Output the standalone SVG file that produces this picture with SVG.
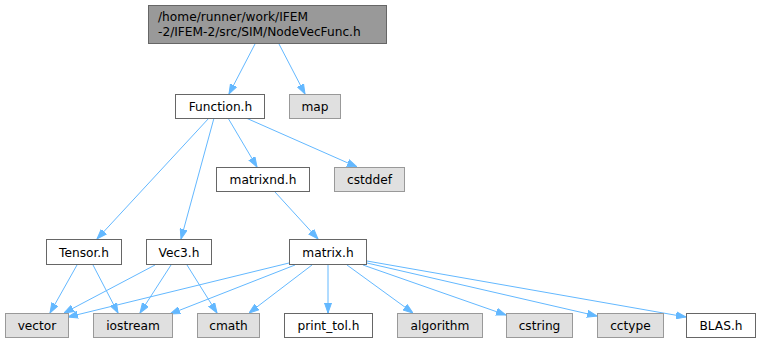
<svg xmlns="http://www.w3.org/2000/svg" width="760" height="344" viewBox="0 0 760 344">
<style>
.n rect{stroke:#666666;stroke-width:1}
.w rect{fill:#ffffff}
.g rect{fill:#e0e0e0;stroke:#999999}
.t rect{fill:#999999}
text{font-family:"DejaVu Sans",sans-serif;font-size:12.2px;fill:#000000}
.c{text-anchor:middle}
#edges path{fill:none;stroke:#63b8ff;stroke-width:1;marker-end:url(#ah)}
</style>
<defs>
<marker id="ah" markerUnits="userSpaceOnUse" markerWidth="10" markerHeight="8" refX="10" refY="4" orient="auto">
<path d="M0,0.5 L10,4 L0,7.5 z" fill="#63b8ff" stroke="#63b8ff" stroke-width="1"/>
</marker>
</defs>
<rect width="760" height="344" fill="#ffffff"/>
<g id="edges">
<path d="M255,44 L229,94"/>
<path d="M279,44 L305,94"/>
<path d="M209,118 L97,239"/>
<path d="M214,118 L181,239"/>
<path d="M228,118 L257,167"/>
<path d="M246,118 L357,167"/>
<path d="M275,192 L318,239"/>
<path d="M77,265 L50,313"/>
<path d="M93,265 L118,313"/>
<path d="M155,265 L64,313"/>
<path d="M171,265 L140,313"/>
<path d="M187,265 L217,313"/>
<path d="M289,263 L68,317"/>
<path d="M295,265 L170,314"/>
<path d="M312,265 L249,313"/>
<path d="M328,265 L328,313"/>
<path d="M347,265 L413,313"/>
<path d="M363,265 L506,315"/>
<path d="M367,263 L597,316"/>
<path d="M367,261 L686,317"/>
</g>
<g id="node_top" class="n t"><rect x="148.5" y="5.5" width="238" height="38"/><text x="158" y="21">/home/runner/work/IFEM</text><text x="158" y="35.5">-2/IFEM-2/src/SIM/NodeVecFunc.h</text></g>
<g id="node_function" class="n w"><rect x="175.5" y="94.5" width="89" height="24"/><text class="c" x="220.5" y="111">Function.h</text></g>
<g id="node_map" class="n g"><rect x="289.5" y="94.5" width="51" height="24"/><text class="c" x="315" y="111">map</text></g>
<g id="node_matrixnd" class="n w"><rect x="216.5" y="167.5" width="93" height="24"/><text class="c" x="263" y="184">matrixnd.h</text></g>
<g id="node_cstddef" class="n g"><rect x="334.5" y="167.5" width="70" height="24"/><text class="c" x="369.5" y="184">cstddef</text></g>
<g id="node_tensor" class="n w"><rect x="46.5" y="239.5" width="75" height="25"/><text class="c" x="84" y="256.5">Tensor.h</text></g>
<g id="node_vec3" class="n w"><rect x="146.5" y="239.5" width="65" height="25"/><text class="c" x="179" y="256.5">Vec3.h</text></g>
<g id="node_matrix" class="n w"><rect x="289.5" y="239.5" width="77" height="25"/><text class="c" x="328" y="256.5">matrix.h</text></g>
<g id="node_vector" class="n g"><rect x="5.5" y="313.5" width="63" height="24"/><text class="c" x="37" y="330">vector</text></g>
<g id="node_iostream" class="n g"><rect x="93.5" y="313.5" width="79" height="24"/><text class="c" x="133" y="330">iostream</text></g>
<g id="node_cmath" class="n g"><rect x="197.5" y="313.5" width="62" height="24"/><text class="c" x="228.5" y="330">cmath</text></g>
<g id="node_print_tol" class="n w"><rect x="284.5" y="313.5" width="88" height="24"/><text class="c" x="328.5" y="330">print_tol.h</text></g>
<g id="node_algorithm" class="n g"><rect x="397.5" y="313.5" width="85" height="24"/><text class="c" x="440" y="330">algorithm</text></g>
<g id="node_cstring" class="n g"><rect x="506.5" y="313.5" width="66" height="24"/><text class="c" x="539.5" y="330">cstring</text></g>
<g id="node_cctype" class="n g"><rect x="597.5" y="313.5" width="66" height="24"/><text class="c" x="630.5" y="330">cctype</text></g>
<g id="node_blas" class="n w"><rect x="686.5" y="313.5" width="69" height="24"/><text class="c" x="721" y="330">BLAS.h</text></g>
</svg>
